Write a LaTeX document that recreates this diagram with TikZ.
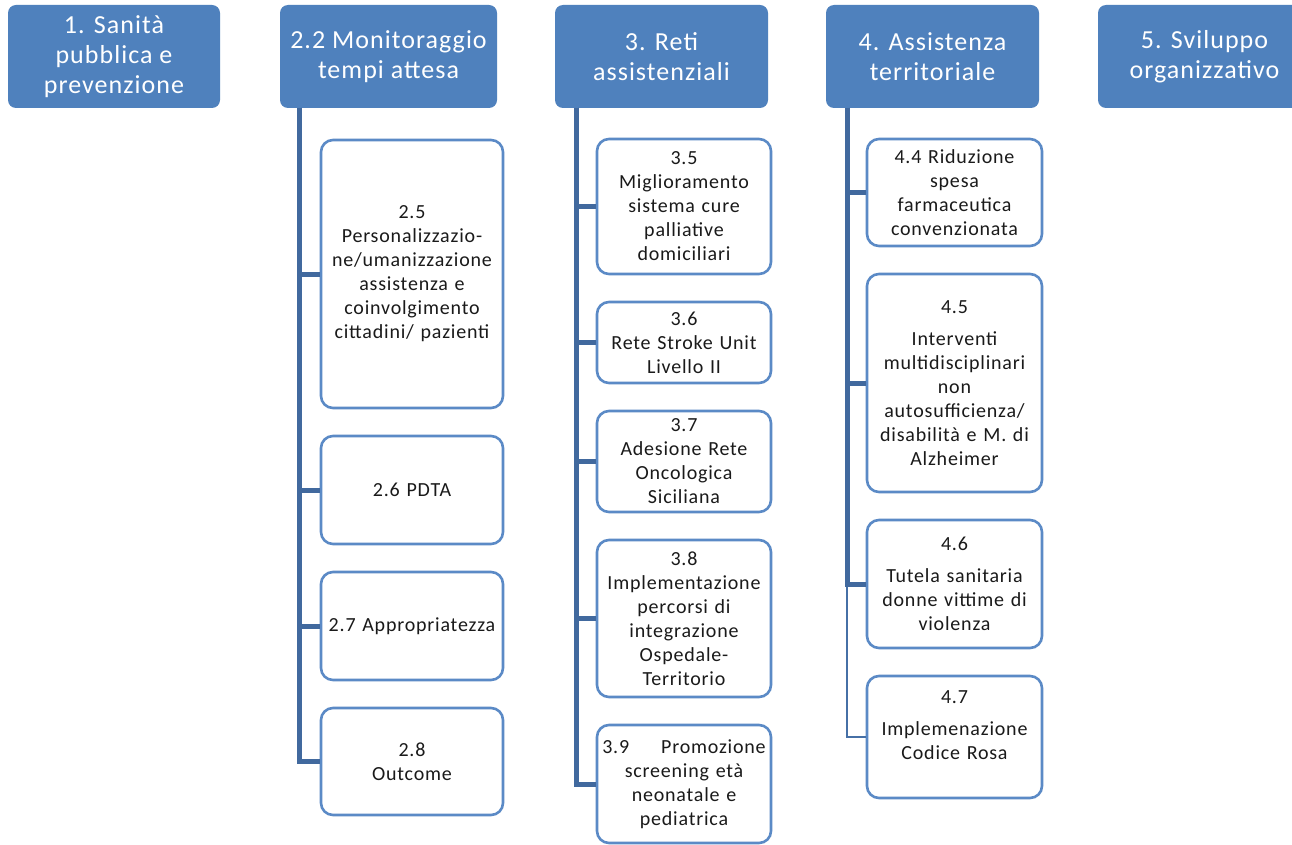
\documentclass[tikz,border=0pt]{standalone}
\usepackage{fontspec}
\setmainfont{Carlito}
\newfontfamily\spacedfont[LetterSpace=4]{Carlito}
\definecolor{hdrblue}{HTML}{4F81BD}
\definecolor{boxblue}{HTML}{5B8AC6}
\definecolor{trunkblue}{HTML}{41699E}
\definecolor{txt}{HTML}{1A1A1A}
\tikzset{
  hdr/.style={fill=hdrblue, draw=none, rounded corners=8pt, text=white, align=center,
    font=\spacedfont\fontsize{26}{30}\selectfont, inner sep=0pt, minimum height=103pt},
  child/.style={draw=boxblue, line width=2.6pt, fill=white, rounded corners=12pt, text=txt,
    align=center, font=\spacedfont\fontsize{20}{24}\selectfont, inner sep=0pt},
  c2/.style={child, minimum width=182pt, text width=177pt},
  c3/.style={child, minimum width=174pt, text width=170pt},
  c4/.style={child, minimum width=175pt, text width=171pt},
  trunk/.style={draw=trunkblue, line width=5pt},
  thin/.style={draw=trunkblue!80!boxblue, line width=1.2pt}
}
\begin{document}
\begin{tikzpicture}[x=1pt,y=-1pt]
\clip (0,0) rectangle (1292,845);
\useasboundingbox (0,0) rectangle (1292,845);
\fill[white] (0,0) rectangle (1292,845);
% headers
\node[hdr, minimum width=212pt] (h1) at (114,56.5) {1. Sanità\\pubblica e\\prevenzione};
\node[hdr, minimum width=217pt] (h2) at (388.5,56.5) {2.2 Monitoraggio\\tempi attesa};
\node[hdr, minimum width=213pt] (h3) at (661.5,56.5) {3. Reti\\assistenziali};
\node[hdr, minimum width=213pt] (h4) at (932.5,56.5) {4. Assistenza\\territoriale};
\node[hdr, minimum width=213pt] (h5) at (1204.5,56.5) {5. Sviluppo\\organizzativo};
% trunk anchor points
\coordinate (t2) at (299,108);
\coordinate (t3) at (576,108);
\coordinate (t4) at (847,108);
% column 2
\node[c2, minimum height=268pt] (c25) at (412,274) {2.5\\Personalizzazio-\\ne/umanizzazione\\assistenza e\\coinvolgimento\\cittadini/ pazienti};
\node[c2, minimum height=108pt] (c26) at (412,490) {2.6 PDTA};
\node[c2, minimum height=108pt] (c27) at (412,626) {2.7 Appropriatezza};
\node[c2, minimum height=107pt] (c28) at (412,761.5) {2.8\\Outcome};
% column 3
\node[c3, minimum height=135pt] (c35) at (684,206.5) {3.5\\Miglioramento\\sistema cure\\palliative\\domiciliari};
\node[c3, minimum height=81pt] (c36) at (684,342.5) {3.6\\Rete Stroke Unit\\Livello II};
\node[c3, minimum height=101pt] (c37) at (684,461.5) {3.7\\Adesione Rete\\Oncologica\\Siciliana};
\node[c3, minimum height=157pt] (c38) at (684,618.5) {3.8\\Implementazione\\percorsi di\\integrazione\\Ospedale-\\Territorio};
\node[c3, minimum height=118pt] (c39) at (684,784) {3.9\hspace{1.6em}Promozione\\screening età\\neonatale e\\pediatrica};
% column 4
\node[c4, minimum height=107pt] (c44) at (954.5,192.5) {4.4 Riduzione\\spesa\\farmaceutica\\convenzionata};
\node[c4, minimum height=218pt] (c45) at (954.5,383) {4.5\\[8pt]Interventi\\multidisciplinari\\non\\autosufficienza/\\disabilità e M. di\\Alzheimer};
\node[c4, minimum height=128pt] (c46) at (954.5,584) {4.6\\[8pt]Tutela sanitaria\\donne vittime di\\violenza};
\node[c4, minimum height=122pt] (c47) at (954.5,737) {4.7\\[8pt]Implemenazione\\Codice Rosa\\\mbox{}};
% connectors column 2
\draw[trunk] (t2) |- (c25.west);
\draw[trunk] (t2) |- (c26.west);
\draw[trunk] (t2) |- (c27.west);
\draw[trunk] (t2) |- (c28.west);
% connectors column 3
\draw[trunk] (t3) |- (c35.west);
\draw[trunk] (t3) |- (c36.west);
\draw[trunk] (t3) |- (c37.west);
\draw[trunk] (t3) |- (c38.west);
\draw[trunk] (t3) |- (c39.west);
% connectors column 4
\coordinate (t4b) at (t4 |- c46.west);
\draw[thin] (t4b) |- (c47.west);
\draw[trunk] (t4) |- (c44.west);
\draw[trunk] (t4) |- (c45.west);
\draw[trunk] (t4) |- (c46.west);
\end{tikzpicture}
\end{document}
